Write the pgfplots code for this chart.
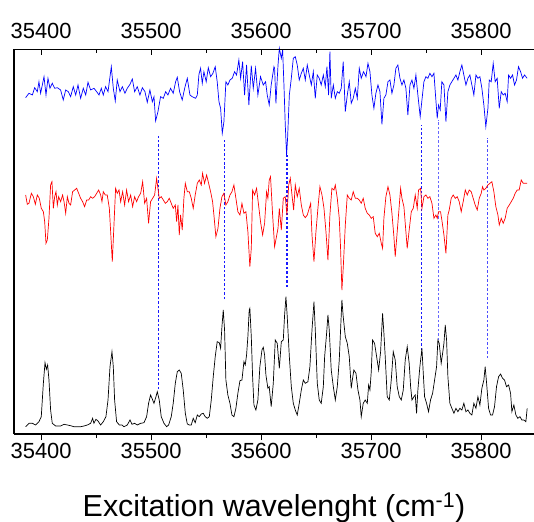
\documentclass[border=0pt]{standalone}
\usepackage{fontspec}
\setmainfont{Liberation Sans}
\usepackage{pgfplots}
\pgfplotsset{compat=1.18}

\pgfplotsset{
  spec/.style={
    scale only axis, width=520bp, height=384.5bp,
    at={(0,0)}, anchor=south west,
    xmin=35375.3, xmax=35848.2, ymin=0, ymax=384.5,
    ytick=\empty, scaled x ticks=false,
    xtick={35400,35500,35600,35700,35800},
    xticklabels={35400,35500,35600,35700,35800},
    minor xtick={35450,35550,35650,35750},
    major tick length=6bp, minor tick length=4bp,
    tick style={black, line width=1pt},
    ticklabel style={font=\fontsize{22}{26}\selectfont},
    axis line style={-, line width=1.2pt},
  },
  guide/.style={blue!90!white, line width=1.1pt, dash pattern=on 2.5pt off 2pt},
}

\begin{document}
\begin{tikzpicture}
\begin{axis}[spec, axis x line*=bottom, axis y line*=left, tick align=outside, clip=false]
% dashed guides
\addplot[guide] coordinates {(35506.6,45) (35506.6,298)};
\addplot[guide] coordinates {(35566.7,135) (35566.7,296)};
\addplot[guide] coordinates {(35623.6,147) (35623.6,279)};
\addplot[guide] coordinates {(35746.1,84) (35746.1,309)};
\addplot[guide, blue!60!white] coordinates {(35761.5,94) (35761.5,314)};
\addplot[guide, blue!70!white] coordinates {(35805.5,76) (35805.5,296)};
% blue trace
\addplot[blue, line width=0.7pt] coordinates {
(35385.9,336.3) (35388.9,340.7) (35392.0,339) (35394.1,346.3) (35396.5,342.3) (35398.0,352.3)
(35399.5,340.7) (35402.6,357.3) (35404.4,339) (35406.2,355.7) (35408.0,345.7) (35410.1,350.7)
(35412.3,345.7) (35414.7,346.3) (35417.7,344) (35420.1,334) (35422.3,344) (35424.7,342.3)
(35426.8,337.3) (35429.2,347.3) (35431.4,339) (35433.5,349) (35435.9,335.7) (35438.3,345.7)
(35440.5,339) (35442.6,351.7) (35445.0,344) (35448.0,345.7) (35450.5,342.3) (35452.6,339)
(35454.7,345.7) (35456.5,339) (35458.6,347.3) (35460.8,342.3) (35463.8,367.3) (35465.6,345.7)
(35467.4,333) (35469.2,354) (35471.7,342.3) (35473.8,347.3) (35476.2,340.7) (35478.3,345.7)
(35480.8,349.7) (35482.9,355) (35485.0,342.3) (35487.4,347.3) (35489.8,339) (35492.0,346.3)
(35494.4,342.3) (35496.5,331.7) (35498.9,344) (35501.1,332.3) (35502.6,337.3) (35504.1,313)
(35506.2,322.3) (35508.6,337.3) (35511.1,335.7) (35513.2,342.3) (35515.3,339) (35517.7,345.7)
(35520.1,340.7) (35522.3,352.3) (35523.8,356.7) (35525.9,342.3) (35528.3,334) (35530.5,345.7)
(35532.9,355.7) (35535.3,339) (35537.4,337.3) (35540.5,335.7) (35542.0,339) (35543.5,359.7)
(35545.0,365.7) (35546.5,350.7) (35548.0,362.3) (35550.1,352.3) (35552.0,366.3) (35554.1,357.3)
(35556.2,360.7) (35558.3,367.3) (35560.1,352.3) (35561.7,332.3) (35563.2,325.7) (35564.7,300.7)
(35566.2,312.3) (35568.0,352.3) (35569.8,349) (35571.7,354) (35573.8,355.7) (35575.9,362.3)
(35577.7,359) (35579.8,374) (35581.4,355.7) (35583.2,372.3) (35585.0,339) (35586.8,369)
(35588.9,329) (35591.1,368.3) (35592.9,345.7) (35595.0,365.7) (35597.1,339) (35599.5,357.3)
(35602.0,349) (35604.1,352.3) (35605.6,339) (35607.4,329) (35609.2,349) (35611.7,367.3)
(35612.3,365.7) (35613.5,330.7) (35615.4,369) (35616.6,385.7) (35618.4,375.7) (35619.6,384)
(35620.8,349) (35622.0,309) (35623.2,279) (35624.1,295.7) (35625.7,339) (35627.5,355.7)
(35629.3,375.7) (35631.1,377.3) (35632.9,369) (35634.7,354) (35636.6,360.7) (35638.4,365.7)
(35640.2,354) (35642.0,369) (35643.8,359) (35645.7,349) (35647.5,362.3) (35649.3,335.7)
(35651.1,359) (35652.9,355.7) (35654.7,349) (35656.6,359) (35658.4,347.3) (35659.9,367.3)
(35661.4,339) (35662.6,382.3) (35663.8,335.7) (35665.7,349) (35667.5,335.7) (35669.3,342.3)
(35671.1,340.7) (35672.9,345.7) (35674.7,372.3) (35676.6,322.3) (35678.4,339) (35680.2,352.3)
(35682.0,330.7) (35683.8,335.7) (35685.7,345.7) (35687.5,335.7) (35689.3,365.7) (35691.1,355.7)
(35693.2,362.3) (35695.4,357.3) (35697.2,370.7) (35699.0,362.3) (35700.8,339) (35702.6,325.7)
(35704.4,340.7) (35706.3,349) (35708.1,342.3) (35709.9,309.7) (35711.7,335.7) (35713.5,339)
(35715.4,352.3) (35717.2,354) (35719.0,340.7) (35720.8,349) (35722.6,365.7) (35724.4,369)
(35726.3,355.7) (35728.1,349) (35729.9,354) (35731.7,345.7) (35733.5,319) (35735.4,349)
(35737.2,354) (35739.0,345.7) (35740.8,359) (35742.6,339) (35744.7,317.3) (35746.3,334)
(35748.1,352.3) (35749.9,357.3) (35751.7,355.7) (35753.5,360.7) (35755.4,357.3) (35757.2,360.7)
(35758.4,342.3) (35760.2,315.7) (35761.4,329) (35762.9,324) (35764.4,352.3) (35766.3,349)
(35768.1,312.3) (35769.9,342.3) (35771.7,349) (35773.5,352.3) (35775.4,355.7) (35777.2,359)
(35779.0,354) (35780.8,362.3) (35782.6,369) (35784.4,359) (35786.3,349) (35788.1,355.7)
(35789.9,359) (35791.7,349) (35793.5,339) (35795.4,359) (35797.2,355.7) (35799.0,357.3)
(35800.8,345.7) (35802.6,329) (35804.4,307.3) (35806.3,325.7) (35807.5,354) (35809.3,352.3)
(35811.1,370.7) (35812.9,352.3) (35814.7,355.7) (35816.6,325.7) (35818.4,342.3) (35820.2,339)
(35822.0,340.7) (35823.8,332.3) (35825.1,359) (35826.9,355.7) (35828.7,359) (35830.5,349)
(35832.3,354) (35834.1,367.3) (35836.0,362.3) (35837.8,355.7) (35839.6,359) (35842.0,355.7)
};
% red trace
\addplot[red, line width=0.7pt] coordinates {
(35385.9,239) (35387.4,229.7) (35388.9,230.7) (35391.1,240.7) (35392.9,237.3) (35394.7,229.7)
(35396.5,239) (35398.3,235.7) (35400.1,225.7) (35402.0,222.3) (35403.2,212.3) (35404.4,190.7)
(35405.6,194) (35407.1,215.7) (35408.6,249) (35409.8,252.3) (35411.1,225.7) (35412.3,237.3)
(35413.5,242.3) (35414.7,229) (35415.9,237.3) (35417.7,232.3) (35419.5,239) (35420.8,232.3)
(35422.3,220.7) (35423.8,237.3) (35425.3,230.7) (35426.8,229) (35428.6,242.3) (35430.5,244)
(35432.3,245.7) (35434.1,240.7) (35435.9,235.7) (35437.7,232.3) (35439.5,227.3) (35441.4,234)
(35443.2,234) (35445.0,237.3) (35446.8,235.7) (35448.6,237.3) (35450.5,240.7) (35452.3,244)
(35454.1,239) (35455.3,232.3) (35456.5,242.3) (35458.3,239) (35460.1,239) (35462.0,225.7)
(35463.2,202.3) (35464.7,172.3) (35466.2,209) (35467.7,245.7) (35469.2,240.7) (35470.8,244)
(35472.3,232.3) (35474.1,242.3) (35475.9,229) (35477.7,244) (35479.5,232.3) (35481.4,239)
(35483.2,227.3) (35485.0,237.3) (35486.8,232.3) (35488.6,237.3) (35490.5,240.7) (35492.3,252.3)
(35494.1,230.7) (35495.9,235.7) (35497.7,210.7) (35499.5,232.3) (35501.4,235.7) (35503.2,239)
(35505.0,255.7) (35506.2,245.7) (35507.4,235.7) (35509.2,237.3) (35511.1,234) (35512.9,230.7)
(35514.7,232.3) (35516.5,235.7) (35518.3,230.7) (35520.1,225.7) (35522.0,229) (35523.2,212.3)
(35524.4,229) (35525.6,199) (35526.8,219) (35528.3,204) (35529.8,235.7) (35531.1,250.7)
(35532.9,242.3) (35534.7,242.3) (35536.5,235.7) (35538.3,225.7) (35540.1,239) (35542.0,250.7)
(35543.8,254) (35545.6,249) (35546.8,260.7) (35548.6,250.7) (35550.5,259) (35552.3,250.7)
(35554.1,242.3) (35555.9,232.3) (35557.1,219) (35558.9,197.3) (35560.8,205.7) (35562.6,225.7)
(35564.4,237.3) (35566.2,240.7) (35568.0,229) (35569.8,232.3) (35571.7,239) (35573.5,242.3)
(35575.3,249) (35577.1,235.7) (35578.9,222.3) (35580.8,219) (35582.6,230.7) (35584.4,220.7)
(35586.2,222.3) (35588.0,202.3) (35589.8,167.3) (35591.1,185.7) (35592.3,244) (35594.1,239)
(35595.9,245.7) (35597.7,229) (35599.5,212.3) (35601.4,199) (35603.2,210.7) (35605.0,242.3)
(35606.2,235.7) (35607.4,254) (35608.6,257.3) (35610.5,219) (35612.3,187.3) (35615.4,205.7)
(35616.6,225.7) (35618.4,204) (35620.2,235.7) (35622.0,237.3) (35623.5,219) (35625.1,249)
(35626.6,255.7) (35628.1,239) (35629.6,224) (35631.1,249) (35632.9,237.3) (35634.7,245.7)
(35636.6,229) (35638.4,219) (35640.2,216.3) (35642.0,219) (35643.8,225.7) (35645.1,230.7)
(35646.3,199) (35648.1,172.3) (35649.9,202.3) (35651.7,225.7) (35653.5,247.3) (35655.4,239)
(35657.2,225.7) (35659.0,202.3) (35660.8,174) (35662.6,219) (35664.4,245.7) (35666.3,244)
(35667.5,249) (35669.3,235.7) (35671.1,215.7) (35672.3,185.7) (35673.5,144) (35674.7,165.7)
(35676.6,209) (35678.4,239) (35680.2,235.7) (35682.0,234) (35683.8,242.3) (35685.7,235.7)
(35687.5,235.7) (35689.3,234) (35691.1,230.7) (35692.9,235.7) (35694.7,225.7) (35696.6,220.7)
(35698.4,219) (35700.2,215.7) (35702.0,217.3) (35703.8,200.7) (35705.7,197.3) (35707.5,200.7)
(35709.3,190.7) (35710.5,185.7) (35711.7,215.7) (35713.5,237.3) (35715.4,247.3) (35717.2,239)
(35719.0,220.7) (35720.8,197.3) (35722.0,177.3) (35723.8,202.3) (35725.7,229) (35726.9,245.7)
(35728.1,235.7) (35729.9,227.3) (35731.7,202.3) (35732.9,185.7) (35734.7,204) (35736.6,222.3)
(35738.4,225.7) (35740.2,239) (35742.0,225.7) (35743.2,244) (35745.1,245.7) (35746.3,225.7)
(35748.1,237.3) (35749.9,239) (35751.7,235.7) (35753.5,237.3) (35755.4,230.7) (35757.2,215.7)
(35759.0,219) (35760.2,215.7) (35761.4,222.3) (35763.2,222.3) (35764.4,214) (35766.3,199)
(35768.1,180.7) (35769.9,219) (35771.1,224) (35772.9,235.7) (35774.7,239) (35776.6,235.7)
(35778.4,237.3) (35780.2,232.3) (35782.0,222.3) (35783.8,232.3) (35785.7,244) (35787.5,239)
(35789.3,244) (35791.1,242.3) (35792.9,235.7) (35794.7,229) (35796.6,224) (35798.4,235.7)
(35800.2,240.7) (35801.4,247.3) (35802.6,244) (35804.4,245.7) (35806.3,249) (35808.1,250.7)
(35809.9,252.3) (35811.7,242.3) (35813.5,227.3) (35815.4,219) (35816.6,209) (35818.4,215.7)
(35820.2,210.7) (35822.0,215.7) (35823.8,225.7) (35825.7,229) (35827.5,232.3) (35829.3,235.7)
(35831.1,240.7) (35832.9,244) (35834.7,244) (35836.6,254) (35838.4,250.7) (35840.2,250.7)
(35842.0,250.7)
};
% black trace
\addplot[black, line width=0.7pt] coordinates {
(35385.9,7.3) (35388.9,10.7) (35392.0,10.7) (35395.0,9) (35398.0,12.3) (35400.1,17.3)
(35402.0,50.7) (35403.5,71.3) (35404.7,64.7) (35405.9,69) (35407.1,54) (35408.6,24)
(35410.1,10.7) (35413.2,8) (35417.7,8) (35420.8,9.7) (35423.8,9) (35426.8,8.3)
(35429.8,7.3) (35432.9,7.3) (35435.9,7.3) (35438.9,8) (35442.0,9) (35445.0,10.7)
(35446.8,15.7) (35448.0,10.7) (35449.8,14.7) (35451.7,13) (35454.1,9) (35456.5,12.3)
(35458.9,17.3) (35460.8,34) (35462.6,67.3) (35464.4,82.3) (35465.6,67.3) (35466.8,34)
(35468.6,12.3) (35471.1,9) (35473.5,9) (35475.3,7.3) (35478.3,9) (35480.8,14)
(35482.6,9.7) (35485.0,10.7) (35487.4,9) (35490.5,10.7) (35493.5,11.3) (35495.9,17.3)
(35497.7,30.7) (35499.5,39) (35500.8,35.7) (35502.6,30.7) (35504.4,37.3) (35505.6,42.3)
(35507.4,34) (35509.2,17.3) (35511.7,10.7) (35514.1,7.3) (35515.9,9) (35518.3,17.3)
(35520.1,30.7) (35522.0,50.7) (35523.8,62.3) (35525.6,64) (35527.4,60.7) (35529.2,44)
(35531.1,20.7) (35532.9,10) (35534.7,9) (35536.5,9) (35538.3,15.7) (35540.1,11.3)
(35542.0,19) (35543.8,17.3) (35545.6,20) (35547.4,20.7) (35549.2,17.3) (35551.1,15.7)
(35552.9,17.3) (35554.7,34) (35556.5,57.3) (35558.3,77.3) (35560.1,92.3) (35562.0,91.3)
(35563.2,85.7) (35564.4,107.3) (35565.6,124) (35566.8,104) (35568.0,54) (35569.8,39)
(35571.7,30.7) (35573.5,19) (35575.3,17.3) (35577.1,25.7) (35578.9,40.7) (35580.8,53.3)
(35582.6,54) (35584.4,72.3) (35585.6,69) (35586.8,79) (35588.0,97.3) (35589.2,124)
(35589.8,125.7) (35591.1,97.3) (35592.3,57.3) (35593.5,29) (35595.3,24) (35597.1,34)
(35598.9,67.3) (35600.8,84) (35602.0,86.7) (35603.2,79) (35604.4,59) (35606.2,45.7)
(35607.4,47.3) (35609.2,27.3) (35611.1,50.7) (35612.9,94) (35614.7,90.7) (35616.6,65.7)
(35618.4,92.3) (35620.2,94) (35621.4,119) (35622.6,137.3) (35623.8,117.3) (35625.7,77.3)
(35627.5,47.3) (35629.3,30.7) (35631.1,24) (35632.9,19) (35634.7,30.7) (35636.6,44)
(35638.4,54) (35640.2,50.7) (35642.6,52.3) (35644.4,67.3) (35646.3,104) (35648.1,132.3)
(35649.3,104) (35651.1,50.7) (35652.9,34) (35654.7,30.7) (35656.6,47.3) (35657.8,77.3)
(35659.6,100.7) (35660.8,119) (35662.0,104) (35663.8,64) (35665.7,47.3) (35667.5,34)
(35669.3,47.3) (35671.1,74) (35672.3,104) (35673.5,134) (35674.7,117.3) (35676.6,97.3)
(35678.4,90.7) (35680.2,77.3) (35682.0,45.7) (35683.2,55.7) (35684.4,64) (35686.3,60.7)
(35688.1,44) (35689.9,34) (35691.1,17.3) (35692.9,30.7) (35694.7,34) (35696.6,30.7)
(35697.8,49) (35699.0,44) (35700.2,62.3) (35701.4,94) (35703.2,90.7) (35705.1,77.3)
(35706.9,64) (35708.7,82.3) (35710.5,120.7) (35711.7,100.7) (35712.9,77.3) (35714.7,37.3)
(35716.6,34) (35718.4,54) (35720.2,82.3) (35722.0,74) (35723.8,47.3) (35725.7,37.3)
(35727.5,34) (35729.3,44) (35731.1,74) (35732.9,87.3) (35734.7,70.7) (35736.0,47.3)
(35737.2,34) (35739.0,37.3) (35740.2,39) (35741.4,20.7) (35742.6,44) (35744.4,67.3)
(35746.3,85.7) (35747.5,60.7) (35748.7,37.3) (35750.5,30.7) (35752.3,22.3) (35754.1,34)
(35756.0,40.7) (35757.8,54) (35759.6,67.3) (35760.8,94) (35762.0,90.7) (35763.8,70.7)
(35765.1,80.7) (35766.3,90.7) (35767.5,109) (35768.7,94) (35769.9,57.3) (35771.7,30.7)
(35773.5,25.7) (35775.4,20.7) (35777.2,25.7) (35779.0,22.3) (35780.8,25.7) (35782.6,24)
(35784.4,30.7) (35786.3,22.3) (35788.1,24) (35789.9,20.7) (35791.7,19) (35793.5,30.7)
(35795.4,25.7) (35797.2,37.3) (35799.0,29) (35800.8,45.7) (35802.6,54) (35803.8,67.3)
(35805.1,50.7) (35806.9,25.7) (35808.7,19) (35810.5,19) (35812.3,27.3) (35814.1,47.3)
(35816.0,57.3) (35817.8,60) (35819.6,55.7) (35821.4,54) (35823.2,47.3) (35825.1,49)
(35826.9,40.7) (35828.1,22.3) (35829.9,29) (35831.7,19) (35833.5,15.7) (35835.4,17.3)
(35837.2,14) (35839.0,14) (35840.8,12.3) (35842.0,25.7)
};
\node[anchor=base, font=\fontsize{30.5}{36}\selectfont, yshift=-82bp] at (rel axis cs:0.5,0)
  {Excitation wavelenght (cm\textsuperscript{-1})};
\end{axis}
\begin{axis}[spec, axis x line*=top, axis y line=none, tick align=inside,
  xticklabel style={yshift=7.5bp}]
\end{axis}
\pgfresetboundingbox
\path[use as bounding box] (-14bp,-88bp) rectangle (520bp,434bp);
\end{tikzpicture}
\end{document}
